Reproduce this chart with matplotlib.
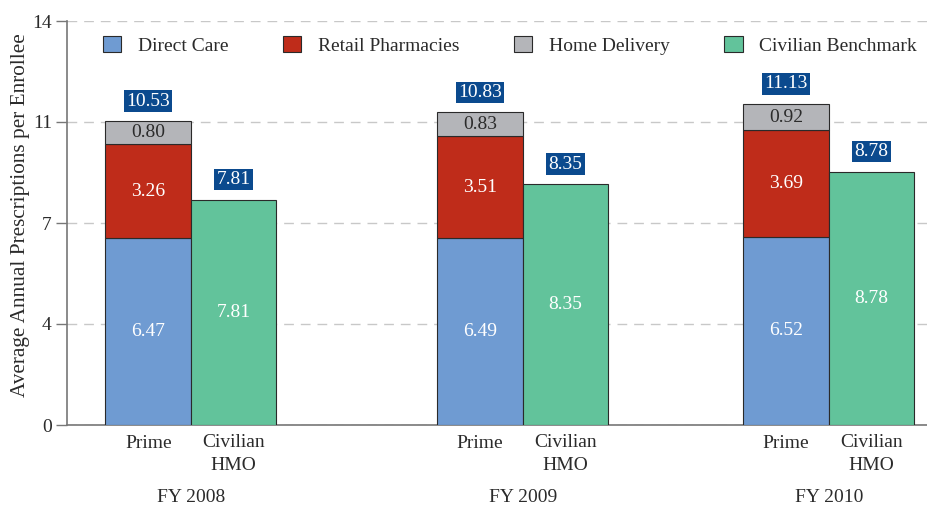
import numpy as np
import matplotlib
matplotlib.use("Agg")
import matplotlib.pyplot as plt
from matplotlib.patches import Patch

# ── Data ────────────────────────────────────────────────────────────────────
years         = ["FY 2008", "FY 2009", "FY 2010"]
direct_care   = [6.47, 6.49, 6.52]
retail        = [3.26, 3.51, 3.69]
home_delivery = [0.80, 0.83, 0.92]
prime_total   = [10.53, 10.83, 11.13]
civilian      = [7.81, 8.35, 8.78]

series_names  = ["Direct Care", "Retail Pharmacies", "Home Delivery", "Civilian Benchmark"]
y_ticks       = [0, 3.5, 7, 10.5, 14]
y_tick_labels = ["0", "4", "7", "11", "14"]

# ── Style ───────────────────────────────────────────────────────────────────
c_blue  = "#6f9bd2"
c_red   = "#bf2c1a"
c_gray  = "#b4b5b9"
c_green = "#62c39b"
c_navy  = "#0b4a8e"
c_text  = "#2b2b2b"
edge    = "#2a2a2a"

plt.rcParams["font.family"] = ["Liberation Serif", "DejaVu Serif"]

PX = 72 / 100  # points per pixel

fig = plt.figure(figsize=(9.27, 5.08), dpi=100)
ax = fig.add_axes([67 / 927, 1 - 425 / 508, 860 / 927, 404 / 508])

# group centres (in bar-width units)
centres = np.array([0.0, 3.88, 7.46])
w = 1.0
xp = centres - w / 2
xc = centres + w / 2

bot_r = np.array(direct_care)
bot_h = bot_r + np.array(retail)

ax.bar(xp, direct_care, w, color=c_blue, edgecolor=edge, lw=0.8, zorder=3)
ax.bar(xp, retail, w, bottom=bot_r, color=c_red, edgecolor=edge, lw=0.8, zorder=3)
ax.bar(xp, home_delivery, w, bottom=bot_h, color=c_gray, edgecolor=edge, lw=0.8, zorder=3)
ax.bar(xc, civilian, w, color=c_green, edgecolor=edge, lw=0.8, zorder=3)

fs = 14
for i in range(len(years)):
    ax.text(xp[i], direct_care[i] / 2, f"{direct_care[i]:.2f}", ha="center", va="center",
            color="white", fontsize=fs, zorder=4)
    ax.text(xp[i], bot_r[i] + retail[i] / 2, f"{retail[i]:.2f}", ha="center", va="center",
            color="white", fontsize=fs, zorder=4)
    ax.text(xp[i], bot_h[i] + home_delivery[i] / 2, f"{home_delivery[i]:.2f}", ha="center",
            va="center", color=c_text, fontsize=fs, zorder=4)
    ax.text(xc[i], civilian[i] / 2, f"{civilian[i]:.2f}", ha="center", va="center",
            color="white", fontsize=fs, zorder=4)

    box = dict(boxstyle="square,pad=0.12", fc=c_navy, ec="none")
    ax.annotate(f"{prime_total[i]:.2f}", (xp[i], bot_h[i] + home_delivery[i]),
                xytext=(0, 20 * PX), textcoords="offset points", ha="center", va="center",
                color="white", fontsize=fs, bbox=box, zorder=5)
    ax.annotate(f"{civilian[i]:.2f}", (xc[i], civilian[i]),
                xytext=(0, 20 * PX), textcoords="offset points", ha="center", va="center",
                color="white", fontsize=fs, bbox=box, zorder=5)

    # category labels
    ax.annotate("Prime", (xp[i], 0), xytext=(0, -18 * PX), textcoords="offset points",
                ha="center", va="center", fontsize=fs, color=c_text)
    ax.annotate("Civilian\nHMO", (xc[i], 0), xytext=(0, -29 * PX), textcoords="offset points",
                ha="center", va="center", fontsize=fs, color=c_text, linespacing=1.4)
    ax.annotate(years[i], (centres[i], 0), xytext=(0, -73 * PX), textcoords="offset points",
                ha="center", va="center", fontsize=fs, color=c_text)

ax.set_xlim(-1.45, 8.61)
ax.set_ylim(0, 14)
ax.set_yticks(y_ticks)
ax.set_yticklabels(y_tick_labels, fontsize=fs, color=c_text)
ax.set_xticks([])
ax.tick_params(axis="y", length=8, width=1, color="#777777", pad=3)
ax.yaxis.grid(True, ls=(0, (7, 5)), color="#c8c8c8", lw=1, zorder=0)
ax.set_axisbelow(True)
for s in ["top", "right"]:
    ax.spines[s].set_visible(False)
ax.spines["left"].set_color("#777777")
ax.spines["bottom"].set_color("#777777")
ax.spines["left"].set_linewidth(1.2)
ax.spines["bottom"].set_linewidth(1.2)

ax.set_ylabel("Average Annual Prescriptions per Enrollee", fontsize=15.3, color=c_text)
ax.yaxis.set_label_coords(-0.043, 0.52)

handles = [Patch(fc=c, ec=edge, lw=0.8) for c in [c_blue, c_red, c_gray, c_green]]
ax.legend(handles, series_names, loc="center", bbox_to_anchor=(0.515, 0.94), ncol=4,
          frameon=False, fontsize=fs, handlelength=0.95, handleheight=0.95,
          columnspacing=2.8, handletextpad=0.85, labelcolor=c_text)

fig.savefig("out.png", dpi=100)
